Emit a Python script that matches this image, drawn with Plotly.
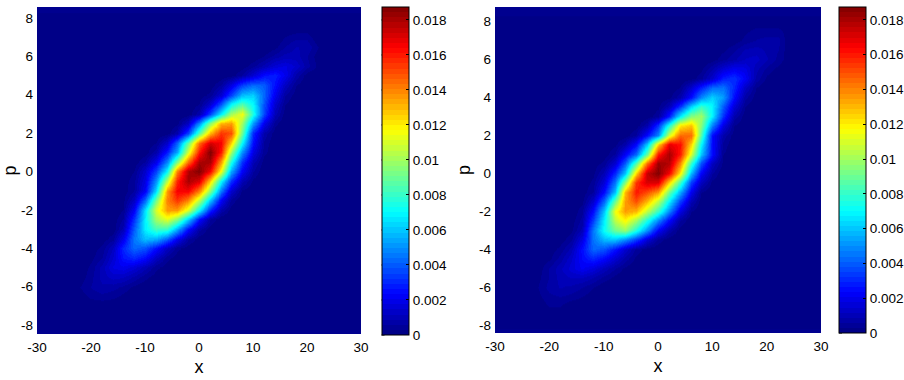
import plotly.graph_objects as go

# Grid nodes of the two phase-space densities
x_nodes = list(range(-30, 31, 2))
p_nodes = [i / 2 for i in range(-16, 17)]

# Values, in units of 1e-4.
# One entry per p (from -8 to 8): x of the first non-zero node, then the values at steps of 2 in x.
left_rows = [
    (-30, []),
    (-30, []),
    (-30, []),
    (-22, [1, 4, 5, 4, 2]),
    (-22, [3, 6, 8, 7, 5, 2]),
    (-22, [1, 5, 10, 13, 12, 8, 4, 1]),
    (-20, [4, 10, 18, 20, 16, 10, 4, 1]),
    (-20, [2, 6, 15, 26, 30, 24, 12, 4, 1]),
    (-20, [1, 4, 12, 30, 42, 38, 25, 12, 4, 1]),
    (-18, [1, 5, 20, 45, 58, 55, 40, 20, 6, 1]),
    (-16, [1, 10, 40, 68, 82, 80, 55, 25, 7, 1]),
    (-16, [1, 6, 32, 68, 100, 112, 95, 62, 25, 6]),
    (-14, [3, 22, 65, 110, 135, 135, 110, 70, 30, 8, 1]),
    (-14, [2, 12, 42, 92, 140, 155, 140, 105, 60, 22, 5]),
    (-14, [1, 6, 22, 65, 135, 165, 165, 140, 95, 45, 14, 2]),
    (-14, [1, 5, 18, 50, 105, 158, 180, 170, 125, 70, 32, 10, 2]),
    (-12, [3, 14, 35, 70, 140, 178, 187, 165, 115, 55, 22, 6]),
    (-12, [1, 6, 20, 48, 95, 145, 180, 180, 135, 75, 32, 10, 1]),
    (-10, [1, 8, 28, 55, 110, 160, 187, 160, 100, 50, 18, 4]),
    (-8, [3, 14, 42, 90, 145, 172, 165, 125, 70, 25, 5]),
    (-6, [1, 8, 35, 85, 130, 155, 150, 90, 30, 8, 1]),
    (-4, [2, 12, 48, 95, 130, 135, 100, 52, 20, 4]),
    (-2, [1, 8, 35, 70, 100, 115, 75, 35, 10, 1]),
    (0, [3, 14, 38, 70, 85, 70, 38, 14, 3]),
    (0, [1, 4, 15, 35, 58, 62, 42, 20, 6, 1]),
    (2, [1, 6, 18, 35, 43, 40, 25, 12, 3]),
    (6, [1, 6, 15, 25, 28, 20, 8, 1]),
    (8, [1, 5, 10, 16, 18, 14, 7, 2]),
    (12, [3, 7, 10, 10, 6, 1]),
    (14, [2, 6, 9, 8, 3]),
    (16, [3, 5, 5]),
    (16, []),
    (16, []),
]

right_rows = [
    (-30, []),
    (-30, []),
    (-22, [1, 3, 3]),
    (-22, [2, 5, 6, 5, 3, 1]),
    (-22, [3, 7, 9, 8, 6, 3]),
    (-22, [2, 6, 10, 12, 12, 9, 5, 2]),
    (-22, [1, 6, 11, 16, 21, 17, 11, 6, 2]),
    (-20, [2, 7, 14, 24, 30, 24, 15, 8, 2]),
    (-20, [1, 4, 10, 25, 42, 38, 26, 14, 5, 1]),
    (-18, [1, 5, 18, 44, 58, 60, 50, 35, 16, 5, 1]),
    (-16, [2, 10, 45, 72, 90, 98, 75, 50, 22, 8, 1]),
    (-16, [1, 7, 34, 68, 105, 118, 100, 75, 48, 24, 6]),
    (-14, [5, 25, 60, 115, 135, 130, 105, 80, 48, 18, 3]),
    (-14, [2, 14, 42, 90, 135, 150, 130, 105, 68, 35, 10, 1]),
    (-14, [1, 6, 25, 60, 130, 160, 150, 135, 90, 55, 20, 3]),
    (-12, [4, 16, 45, 95, 155, 172, 170, 125, 82, 35, 12, 2]),
    (-12, [2, 10, 30, 60, 125, 175, 187, 165, 120, 58, 22, 6]),
    (-12, [1, 4, 15, 40, 85, 145, 182, 178, 140, 80, 38, 12, 2]),
    (-10, [1, 6, 22, 42, 90, 160, 180, 160, 110, 60, 25, 3]),
    (-8, [2, 8, 24, 60, 125, 168, 162, 125, 70, 25, 5]),
    (-6, [1, 6, 25, 48, 110, 145, 145, 85, 25, 8, 1]),
    (-4, [1, 8, 32, 75, 120, 128, 95, 48, 18, 3]),
    (-2, [1, 5, 28, 68, 95, 100, 68, 32, 8, 1]),
    (0, [2, 10, 32, 62, 80, 70, 40, 16, 3]),
    (2, [2, 8, 25, 48, 62, 52, 25, 7, 1]),
    (4, [3, 14, 28, 42, 44, 30, 13, 3]),
    (6, [1, 5, 14, 28, 32, 22, 8, 2]),
    (8, [2, 8, 15, 20, 18, 10, 5, 2]),
    (10, [1, 5, 8, 12, 13, 9, 5, 1]),
    (12, [2, 5, 9, 10, 8, 6, 1]),
    (14, [1, 4, 6, 7, 7, 1]),
    (16, [2, 4, 4, 4, 1]),
    (16, []),
]

x_tick_values = [-30, -20, -10, 0, 10, 20, 30]
x_tick_labels = ["-30", "-20", "-10", "0", "10", "20", "30"]
p_tick_values = [-8, -6, -4, -2, 0, 2, 4, 6, 8]
p_tick_labels = ["-8", "-6", "-4", "-2", "0", "2", "4", "6", "8"]
cb_tick_values = [0, 0.002, 0.004, 0.006, 0.008, 0.01, 0.012, 0.014, 0.016, 0.018]
cb_tick_labels = ["0", "0.002", "0.004", "0.006", "0.008", "0.01", "0.012", "0.014", "0.016", "0.018"]

W, H = 904, 380
Z_MAX = 0.01874
FONT = "Liberation Sans"


def to_grid(rows):
    grid = []
    for start, row in rows:
        cells = [0.0] * len(x_nodes)
        for k, v in enumerate(row):
            cells[x_nodes.index(start + 2 * k)] = v * 1e-4
        grid.append(cells)
    return grid


def jet_scale(n=64):
    def ramp(t):
        return max(0.0, min(1.0, 1.5 - abs(4 * t - 2)))
    scale = []
    for i in range(n):
        t = (i + 0.5) / n
        # MATLAB jet: blue peak at 1/4, green at 1/2, red at 3/4
        r, g, b = ramp(t - 0.25), ramp(t), ramp(t + 0.25)
        c = f"rgb({round(r*255)},{round(g*255)},{round(b*255)})"
        scale.append([i / n, c])
        scale.append([(i + 1) / n, c])
    return scale


JET = jet_scale()
fig = go.Figure()

panels = [
    dict(rows=left_rows, xa="x", ya="y", px=(37, 361), py=(7, 334),
         p_range=[-8.46, 8.57], cb_x=381.5, cb_py=(7, 335)),
    dict(rows=right_rows, xa="x2", ya="y2", px=(495, 821), py=(7, 333),
         p_range=[-8.42, 8.74], cb_x=839, cb_py=(7, 333)),
]

layout_axes = {}
shapes = []
for i, pan in enumerate(panels):
    fig.add_trace(go.Heatmap(
        x=x_nodes, y=p_nodes, z=to_grid(pan["rows"]),
        xaxis=pan["xa"], yaxis=pan["ya"], zmin=0, zmax=Z_MAX, zsmooth="best",
        colorscale=JET, hoverinfo="skip",
        colorbar=dict(
            x=pan["cb_x"] / W, xanchor="left", xpad=0, ypad=0,
            y=1 - pan["cb_py"][1] / H, yanchor="bottom",
            len=pan["cb_py"][1] - pan["cb_py"][0], lenmode="pixels",
            thickness=27, thicknessmode="pixels",
            outlinecolor="black", outlinewidth=1, borderwidth=0,
            tickmode="array", tickvals=cb_tick_values, ticktext=cb_tick_labels,
            ticks="inside", ticklen=3, tickcolor="black", tickwidth=1,
            tickfont=dict(family=FONT, size=13.5, color="black"),
        ),
    ))
    sfx = "" if i == 0 else "2"
    layout_axes["xaxis" + sfx] = dict(
        domain=[pan["px"][0] / W, pan["px"][1] / W], range=[-30, 30], anchor="y" + sfx,
        tickmode="array", tickvals=x_tick_values, ticktext=x_tick_labels, ticks="", showgrid=False,
        zeroline=False, showline=False, tickfont=dict(family=FONT, size=13.5, color="black"),
        ticklabelstandoff=3,
        title=dict(text="x", font=dict(family=FONT, size=18, color="black"), standoff=6),
    )
    layout_axes["yaxis" + sfx] = dict(
        domain=[1 - pan["py"][1] / H, 1 - pan["py"][0] / H], range=pan["p_range"], anchor="x" + sfx,
        tickmode="array", tickvals=p_tick_values, ticktext=p_tick_labels, ticks="", showgrid=False,
        zeroline=False, showline=False, tickfont=dict(family=FONT, size=13.5, color="black"),
        ticklabelstandoff=3,
        title=dict(text="p", font=dict(family=FONT, size=18, color="black"), standoff=3),
    )
    # MATLAB draws colorbar ticks on the left edge as well
    top, bottom = pan["cb_py"]
    for v in cb_tick_values:
        yy = bottom - (bottom - top) * v / Z_MAX
        shapes.append(dict(type="line", xref="paper", yref="paper", layer="above",
                           x0=pan["cb_x"] / W, x1=(pan["cb_x"] + 3) / W,
                           y0=1 - yy / H, y1=1 - yy / H, line=dict(color="black", width=1)))

fig.update_layout(
    width=W, height=H, margin=dict(l=0, r=0, t=0, b=0, autoexpand=False),
    paper_bgcolor="white", plot_bgcolor="#00008f", showlegend=False, shapes=shapes, **layout_axes,
)

fig.write_html("out.html", config={"displayModeBar": False},
               post_script="document.body.style.margin='0';")
